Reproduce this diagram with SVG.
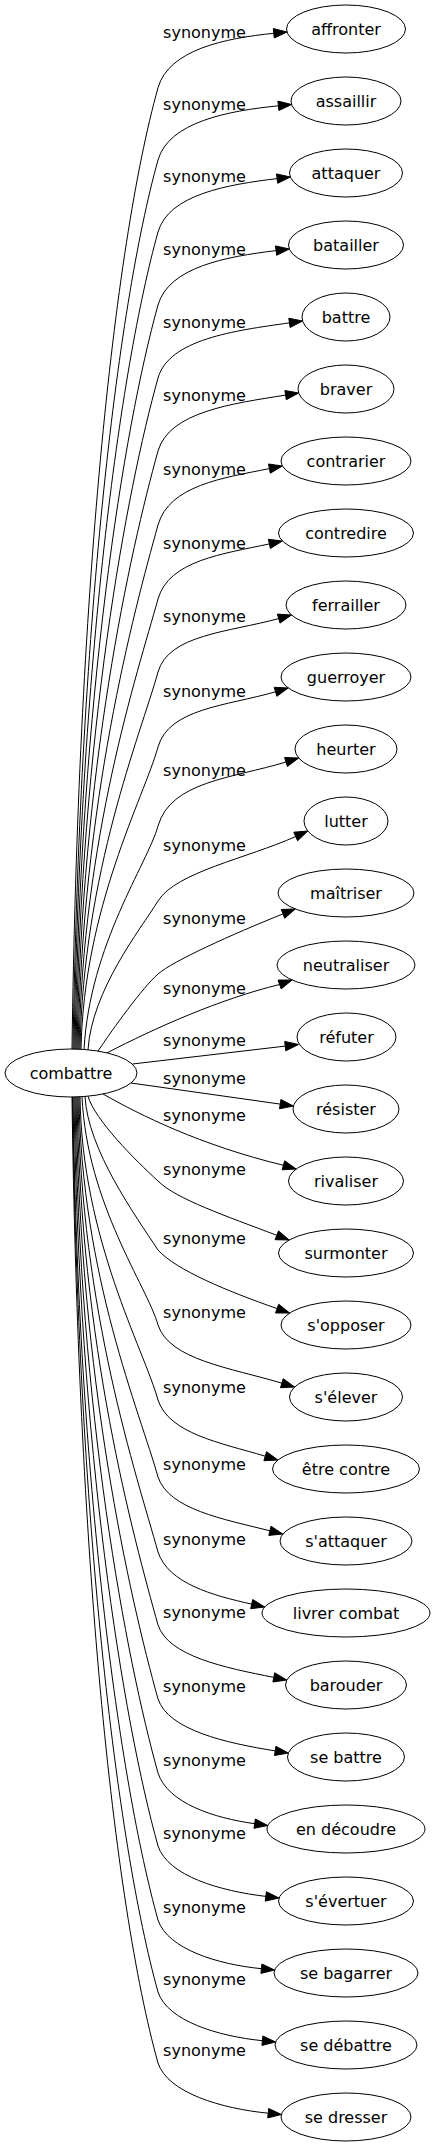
<svg xmlns="http://www.w3.org/2000/svg" width="435" height="2147" viewBox="0 0 435 2147">
<style>
.n ellipse{fill:none;stroke:#000;stroke-width:1}
text{font-family:"DejaVu Sans",Verdana,sans-serif;font-size:16px;fill:#000;text-anchor:middle}
.e path{fill:none;stroke:#000;stroke-width:1}
.e polygon{fill:#000;stroke:#000;stroke-width:1}
</style>
<rect width="435" height="2147" fill="#fff"/>
<g id="edges" class="e">
<g id="e0"><path d="M72,1049.2 C78,597.2 113,249.9 158,87.7 C168.9,49.6 225.2,38.2 273.8,33.3"/><polygon points="287,32 274.3,38 273.3,28.6"/><text x="204.5" y="37.7">synonyme</text></g>
<g id="e1"><path d="M73,1049.2 C79.6,631.2 116.3,310 158,160 C168.8,122.1 227.8,110.8 278.4,105.8"/><polygon points="291.6,104.5 278.9,110.5 277.9,101.1"/><text x="204.5" y="110">synonyme</text></g>
<g id="e2"><path d="M74,1049.2 C80.1,665 119.7,369.9 158,232 C168.7,194.6 227.1,184.6 277.1,178.6"/><polygon points="290.3,177 277.7,183.3 276.5,173.9"/><text x="204.5" y="182">synonyme</text></g>
<g id="e3"><path d="M75,1049.2 C80.7,699.3 123.1,430.6 158,305 C168.9,266.9 226.5,256.6 276.1,250.6"/><polygon points="289.3,249 276.7,255.3 275.5,245.9"/><text x="204.5" y="255">synonyme</text></g>
<g id="e4"><path d="M76,1049.2 C81.2,733.6 126.5,491.2 158,378 C169,339.4 234.2,330.6 289.4,322.9"/><polygon points="302.6,321 290.1,327.5 288.8,318.2"/><text x="204.5" y="328">synonyme</text></g>
<g id="e5"><path d="M77,1049.2 C81.7,768 130,551.9 158,451 C169.2,411.9 232,403.6 285.6,395.1"/><polygon points="298.7,393 286.3,399.7 284.9,390.5"/><text x="204.5" y="401">synonyme</text></g>
<g id="e6"><path d="M78,1049.2 C82.3,802.7 133.4,613.5 158,525 C169.3,485.5 222.6,478 269.4,468.6"/><polygon points="282.4,466 270.3,473.2 268.5,464"/><text x="204.5" y="475">synonyme</text></g>
<g id="e7"><path d="M79,1049.2 C82.8,837.5 136.9,675 158,599 C169,560.4 222.6,554 269.4,543.9"/><polygon points="282.4,541 270.4,548.5 268.4,539.3"/><text x="204.5" y="549">synonyme</text></g>
<g id="e8"><path d="M80,1049.2 C83.4,871.8 140.3,735.7 158,672 C168.7,634.6 228,632.3 278.7,618.6"/><polygon points="291.5,615 280,623.1 277.4,614.1"/><text x="204.5" y="622">synonyme</text></g>
<g id="e9"><path d="M81,1049.2 C83.9,907.1 143.8,798 158,747 C169,708.4 226.1,706 275.5,691.8"/><polygon points="288.2,688 276.9,696.3 274.2,687.3"/><text x="204.5" y="697">synonyme</text></g>
<g id="e10"><path d="M84,1049.3 C90,944.2 147.6,863.6 158,826 C170.8,781.2 232.2,778.4 286,762"/><polygon points="298.7,758 287.4,766.5 284.6,757.5"/><text x="204.5" y="776">synonyme</text></g>
<g id="e11"><path d="M88,1049.8 C92,990 140,930 158,901 C176,872 247.5,858.2 295.7,836.5"/><polygon points="307.8,831 297.6,840.8 293.8,832.2"/><text x="204.5" y="851">synonyme</text></g>
<g id="e12"><path d="M98,1051.1 C112,1030 143,987 158,974 C173,961 230.5,935 283,913.9"/><polygon points="295.3,909 284.7,918.3 281.3,909.5"/><text x="204.5" y="924">synonyme</text></g>
<g id="e13"><path d="M107,1052.9 C155,1028 220,999 279.6,984.5"/><polygon points="292.1,980 281.2,988.9 278,980.1"/><text x="204.5" y="994">synonyme</text></g>
<g id="e14"><path d="M132.5,1064 L285.3,1046.1"/><polygon points="298.5,1044.5 285.8,1050.8 284.7,1041.4"/><text x="204.5" y="1046">synonyme</text></g>
<g id="e15"><path d="M131,1083 L280.2,1104.1"/><polygon points="293.4,1106 279.5,1108.8 280.9,1099.5"/><text x="204.5" y="1084">synonyme</text></g>
<g id="e16"><path d="M103,1094 C140,1115 200,1145 283.4,1165.3"/><polygon points="296.2,1169 282.1,1169.8 284.7,1160.8"/><text x="204.5" y="1121">synonyme</text></g>
<g id="e17"><path d="M88,1096.2 C95,1120 135,1160 158,1181 C176,1199 226.9,1216.3 276.8,1235.3"/><polygon points="289.2,1240 275.1,1239.7 278.5,1230.9"/><text x="204.5" y="1175">synonyme</text></g>
<g id="e18"><path d="M85,1096.5 C88,1150 135,1215 158,1250 C176,1270 227.1,1291.1 277.1,1308.6"/><polygon points="289.7,1313 275.5,1313 278.7,1304.2"/><text x="204.5" y="1244">synonyme</text></g>
<g id="e19"><path d="M82,1096.7 C87,1204.2 147.3,1286.5 158,1325 C169.6,1359.9 229.9,1367.6 281.9,1383.2"/><polygon points="294.6,1387 280.5,1387.7 283.2,1378.7"/><text x="204.5" y="1318">synonyme</text></g>
<g id="e20"><path d="M80,1096.8 C82,1239.4 143.8,1348.8 158,1400 C169.2,1433.7 220.2,1442.7 265.2,1456.2"/><polygon points="277.9,1460 263.9,1460.7 266.6,1451.7"/><text x="204.5" y="1393">synonyme</text></g>
<g id="e21"><path d="M79,1096.8 C81.4,1275.6 140.2,1412.8 158,1477 C168.8,1509.3 222.9,1519 269.9,1530.8"/><polygon points="282.8,1534 268.8,1535.4 271,1526.2"/><text x="204.5" y="1470">synonyme</text></g>
<g id="e22"><path d="M78,1096.8 C80.8,1310.9 136.7,1475.2 158,1552 C168.4,1583.3 212.3,1595.4 251.7,1604.1"/><polygon points="264.7,1607 250.7,1608.7 252.7,1599.5"/><text x="204.5" y="1545">synonyme</text></g>
<g id="e23"><path d="M77,1096.8 C80.3,1345.2 133.3,1535.9 158,1625 C168.5,1656.4 225.2,1667.7 273.8,1677.4"/><polygon points="286.8,1680 272.9,1682 274.7,1672.8"/><text x="204.5" y="1618">synonyme</text></g>
<g id="e24"><path d="M76,1096.9 C79.8,1379.9 129.8,1597.4 158,1699 C168.4,1730.1 226,1743 275.2,1750.9"/><polygon points="288.3,1753 274.5,1755.5 275.9,1746.3"/><text x="204.5" y="1692">synonyme</text></g>
<g id="e25"><path d="M75,1096.9 C79.2,1414.7 126.3,1659 158,1773 C168.1,1803.4 214,1818 254.6,1823.7"/><polygon points="267.8,1825.5 254,1828.3 255.3,1819"/><text x="204.5" y="1766">synonyme</text></g>
<g id="e26"><path d="M74,1096.9 C78.7,1449 122.9,1719.6 158,1846 C168.1,1876.2 220.5,1891 265.8,1896.4"/><polygon points="279,1898 265.2,1901.1 266.4,1891.7"/><text x="204.5" y="1839">synonyme</text></g>
<g id="e27"><path d="M73,1096.9 C78.1,1483.8 119.4,1781.2 158,1920 C167.7,1949.2 218,1964.4 261.4,1968.7"/><polygon points="274.6,1970 260.9,1973.4 261.9,1964"/><text x="204.5" y="1913">synonyme</text></g>
<g id="e28"><path d="M72.5,1096.9 C78.1,1517.7 116.1,1841 158,1992 C167.7,2021.2 218.6,2036.3 262.4,2040.7"/><polygon points="275.6,2042 261.9,2045.4 262.9,2036"/><text x="204.5" y="1985">synonyme</text></g>
<g id="e29"><path d="M72,1097 C78,1551 112.7,1900 158,2063 C168,2093.1 221.9,2108.6 268.2,2113.2"/><polygon points="281.4,2114.5 267.7,2117.9 268.7,2108.5"/><text x="204.5" y="2056">synonyme</text></g>
</g>
<g id="nodes" class="n">
<g id="combattre"><ellipse cx="71" cy="1073" rx="66" ry="24"/><text x="71" y="1078.6">combattre</text></g>
<g id="affronter"><ellipse cx="346" cy="29" rx="59.5" ry="24"/><text x="346" y="34.6">affronter</text></g>
<g id="assaillir"><ellipse cx="346" cy="101" rx="55" ry="24"/><text x="346" y="106.6">assaillir</text></g>
<g id="attaquer"><ellipse cx="346" cy="173" rx="56.5" ry="24"/><text x="346" y="178.6">attaquer</text></g>
<g id="batailler"><ellipse cx="346" cy="245" rx="57.5" ry="24"/><text x="346" y="250.6">batailler</text></g>
<g id="battre"><ellipse cx="346" cy="317" rx="44" ry="24"/><text x="346" y="322.6">battre</text></g>
<g id="braver"><ellipse cx="346" cy="389" rx="48" ry="24"/><text x="346" y="394.6">braver</text></g>
<g id="contrarier"><ellipse cx="346" cy="461" rx="65" ry="24"/><text x="346" y="466.6">contrarier</text></g>
<g id="contredire"><ellipse cx="346" cy="533" rx="67.5" ry="24"/><text x="346" y="538.6">contredire</text></g>
<g id="ferrailler"><ellipse cx="346" cy="605" rx="60" ry="24"/><text x="346" y="610.6">ferrailler</text></g>
<g id="guerroyer"><ellipse cx="346" cy="677" rx="65" ry="24"/><text x="346" y="682.6">guerroyer</text></g>
<g id="heurter"><ellipse cx="346" cy="749" rx="51" ry="24"/><text x="346" y="754.6">heurter</text></g>
<g id="lutter"><ellipse cx="346" cy="821" rx="42" ry="24"/><text x="346" y="826.6">lutter</text></g>
<g id="maitriser"><ellipse cx="346" cy="893" rx="68" ry="24"/><text x="346" y="898.6">maîtriser</text></g>
<g id="neutraliser"><ellipse cx="346" cy="965" rx="69" ry="24"/><text x="346" y="970.6">neutraliser</text></g>
<g id="refuter"><ellipse cx="346.5" cy="1037" rx="49.5" ry="24"/><text x="346.5" y="1042.6">réfuter</text></g>
<g id="resister"><ellipse cx="346" cy="1109" rx="53" ry="24"/><text x="346" y="1114.6">résister</text></g>
<g id="rivaliser"><ellipse cx="346" cy="1181" rx="57.5" ry="24"/><text x="346" y="1186.6">rivaliser</text></g>
<g id="surmonter"><ellipse cx="346" cy="1253" rx="67.5" ry="24"/><text x="346" y="1258.6">surmonter</text></g>
<g id="s-opposer"><ellipse cx="346" cy="1325" rx="65" ry="24"/><text x="346" y="1330.6">s'opposer</text></g>
<g id="s-elever"><ellipse cx="346" cy="1397" rx="56.5" ry="24"/><text x="346" y="1402.6">s'élever</text></g>
<g id="etre-contre"><ellipse cx="346" cy="1469" rx="73.5" ry="24"/><text x="346" y="1474.6">être contre</text></g>
<g id="s-attaquer"><ellipse cx="346" cy="1541" rx="66" ry="24"/><text x="346" y="1546.6">s'attaquer</text></g>
<g id="livrer-combat"><ellipse cx="346" cy="1613" rx="84" ry="24"/><text x="346" y="1618.6">livrer combat</text></g>
<g id="barouder"><ellipse cx="346" cy="1685" rx="60.5" ry="24"/><text x="346" y="1690.6">barouder</text></g>
<g id="se-battre"><ellipse cx="346" cy="1757" rx="58.5" ry="24"/><text x="346" y="1762.6">se battre</text></g>
<g id="en-decoudre"><ellipse cx="346" cy="1829" rx="79" ry="24"/><text x="346" y="1834.6">en découdre</text></g>
<g id="s-evertuer"><ellipse cx="346" cy="1901" rx="67.5" ry="24"/><text x="346" y="1906.6">s'évertuer</text></g>
<g id="se-bagarrer"><ellipse cx="346" cy="1973" rx="72" ry="24"/><text x="346" y="1978.6">se bagarrer</text></g>
<g id="se-debattre"><ellipse cx="346" cy="2045" rx="71" ry="24"/><text x="346" y="2050.6">se débattre</text></g>
<g id="se-dresser"><ellipse cx="346" cy="2117" rx="65" ry="24"/><text x="346" y="2122.6">se dresser</text></g>
</g>
</svg>
